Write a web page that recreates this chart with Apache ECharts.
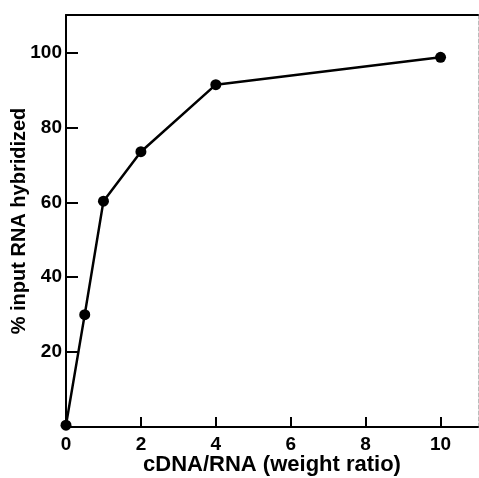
<!DOCTYPE html>
<html>
<head>
<meta charset="utf-8">
<script src="https://cdn.jsdelivr.net/npm/echarts@6/dist/echarts.min.js"></script>
<style>
	html, body { margin: 0; padding: 0; background: #fff; }
	#chart { width: 479px; height: 478px; }
</style>
</head>
<body>
<div id="chart"></div>
<script>
// 数据
var ratio = [0, 0.5, 1, 2, 4, 10];
var hybridized = [0.5, 30, 60.3, 73.5, 91.4, 98.7];
var xTicks = [0, 2, 4, 6, 8, 10];
var yTicks = [20, 40, 60, 80, 100];

var points = ratio.map(function(r, i) {
	return [r, hybridized[i]];
});

var labelFont = "'Liberation Sans Narrow', 'Liberation Sans', Arial, sans-serif";
var nameFont = "'Liberation Sans', Arial, sans-serif";

var chart = echarts.init(document.getElementById('chart'));
var option = {
	animation : false,
	backgroundColor : '#fff',
	grid : {
		left : 66,
		right : 1,
		top : 15,
		bottom : 51,
		containLabel : false,
		outerBoundsMode : 'none'
	},
	xAxis : [ {
		type : 'value',
		min : 0,
		max : 11,
		interval : 1,
		name : 'cDNA/RNA (weight ratio)',
		nameLocation : 'middle',
		nameGap : 27,
		nameMoveOverlap : false,
		nameTextStyle : {
			color : '#000',
			fontSize : 22,
			fontWeight : 'bold',
			fontFamily : nameFont
		},
		axisLine : {
			show : true,
			onZero : false,
			lineStyle : { color : '#000', width : 2 }
		},
		axisTick : {
			inside : true,
			length : 10,
			lineStyle : { color : '#000', width : 2 },
			customValues : xTicks
		},
		axisLabel : {
			color : '#000',
			fontSize : 19,
			fontWeight : 'bold',
			fontFamily : labelFont,
			margin : 8,
			customValues : xTicks
		},
		splitLine : { show : false }
	}, {
		type : 'value',
		position : 'top',
		min : 0,
		max : 11,
		axisLine : {
			show : true,
			onZero : false,
			lineStyle : { color : '#000', width : 2 }
		},
		axisTick : { show : false },
		axisLabel : { show : false },
		splitLine : { show : false }
	} ],
	yAxis : [ {
		type : 'value',
		min : 0,
		max : 110,
		interval : 10,
		name : '% input RNA hybridized',
		nameLocation : 'middle',
		nameGap : 37,
		nameMoveOverlap : false,
		nameTextStyle : {
			color : '#000',
			fontSize : 20,
			fontWeight : 'bold',
			fontFamily : nameFont
		},
		axisLine : {
			show : true,
			onZero : false,
			lineStyle : { color : '#000', width : 2 }
		},
		axisTick : {
			inside : true,
			length : 12,
			lineStyle : { color : '#000', width : 2 },
			customValues : yTicks
		},
		axisLabel : {
			color : '#000',
			fontSize : 19,
			fontWeight : 'bold',
			fontFamily : labelFont,
			margin : 4,
			customValues : yTicks
		},
		splitLine : { show : false }
	}, {
		type : 'value',
		position : 'right',
		min : 0,
		max : 110,
		axisLine : {
			show : true,
			onZero : false,
			lineStyle : { color : '#bbb', width : 1, type : 'dashed' }
		},
		axisTick : { show : false },
		axisLabel : { show : false },
		splitLine : { show : false }
	} ],
	series : [ {
		type : 'line',
		data : points,
		symbol : 'circle',
		symbolSize : 11,
		lineStyle : { color : '#000', width : 2.5 },
		itemStyle : { color : '#000' }
	} ]
};
chart.setOption(option);
</script>
</body>
</html>
